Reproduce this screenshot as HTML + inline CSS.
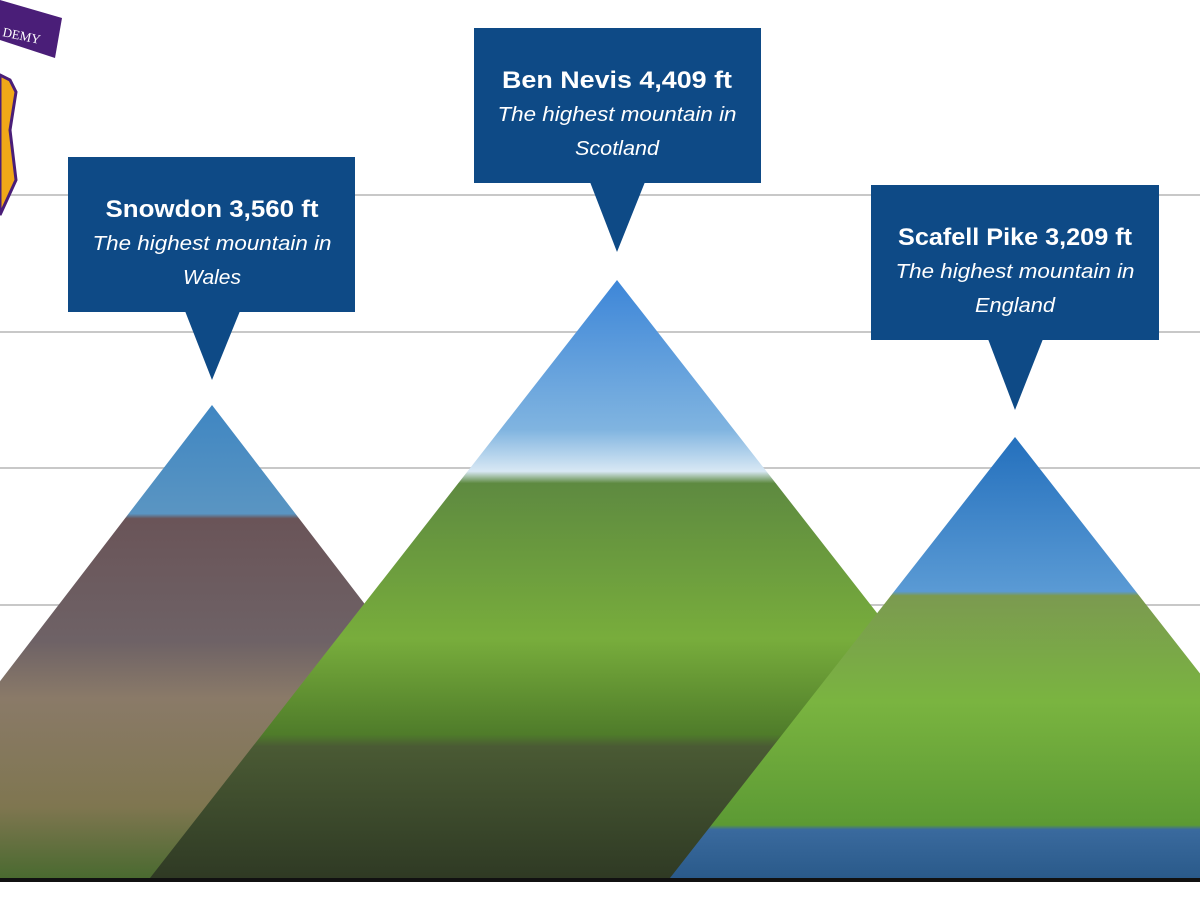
<!DOCTYPE html>
<html><head><style>
html,body{margin:0;padding:0;background:#fff;width:1200px;height:900px;overflow:hidden}
svg{display:block}
text{font-family:"Liberation Sans Narrow","Liberation Sans",sans-serif;fill:#fff}
</style></head><body>
<svg width="1200" height="900" viewBox="0 0 1200 900">
<defs>
<linearGradient id="gs" x1="0" y1="0" x2="0" y2="1" gradientUnits="objectBoundingBox">
<stop offset="0" stop-color="#3f86c2"/><stop offset="0.23" stop-color="#5a95c2"/>
<stop offset="0.24" stop-color="#6a5458"/><stop offset="0.5" stop-color="#6e6266"/>
<stop offset="0.62" stop-color="#8a7a68"/><stop offset="0.85" stop-color="#7f7650"/><stop offset="1" stop-color="#4a6a30"/>
</linearGradient>
<linearGradient id="gb" x1="0" y1="0" x2="0" y2="1">
<stop offset="0" stop-color="#3d86d8"/><stop offset="0.25" stop-color="#80b4e0"/><stop offset="0.32" stop-color="#d8e8f4"/>
<stop offset="0.34" stop-color="#5e8a40"/><stop offset="0.6" stop-color="#78ad3c"/>
<stop offset="0.76" stop-color="#4f7c2a"/><stop offset="0.78" stop-color="#4a5a34"/><stop offset="1" stop-color="#2f3a24"/>
</linearGradient>
<linearGradient id="gc" x1="0" y1="0" x2="0" y2="1">
<stop offset="0" stop-color="#2470bd"/><stop offset="0.35" stop-color="#5a9ad4"/>
<stop offset="0.36" stop-color="#7b9a50"/><stop offset="0.6" stop-color="#7ab440"/><stop offset="0.88" stop-color="#5c9a34"/>
<stop offset="0.89" stop-color="#3a6a9e"/><stop offset="1" stop-color="#2a5a8a"/>
</linearGradient>
</defs>
<g stroke="#c8c8c8" stroke-width="2">
<line x1="0" y1="195" x2="1200" y2="195"/><line x1="0" y1="332" x2="1200" y2="332"/>
<line x1="0" y1="468" x2="1200" y2="468"/><line x1="0" y1="605" x2="1200" y2="605"/>
</g>
<polygon points="212,405 575,878 -151,878" fill="url(#gs)"/>
<polygon points="617,280 1084,878 150,878" fill="url(#gb)"/>
<polygon points="1015,437 1360,878 670,878" fill="url(#gc)"/>
<rect x="0" y="878" width="1200" height="4" fill="#111"/>
<path d="M0,0 L62,18 L55,58 L0,40 Z" fill="#4a1e78"/>
<text x="2" y="36" font-size="13" transform="rotate(12 2 36)" style="font-family:'Liberation Serif',serif">DEMY</text>
<path d="M0,75 L10,80 L16,92 L10,130 L16,180 L0,215 Z" fill="#f0a818" stroke="#4a1e78" stroke-width="3"/>
<g fill="#0e4a86">
<rect x="68" y="157" width="287" height="155"/><polygon points="185,311 240,311 212,380"/>
<rect x="474" y="28" width="287" height="155"/><polygon points="590,182 645,182 617,252"/>
<rect x="871" y="185" width="288" height="155"/><polygon points="988,339 1043,339 1015,410"/>
</g>
<g text-anchor="middle">
<text x="212" y="217" font-size="24" font-weight="bold" textLength="213" lengthAdjust="spacingAndGlyphs">Snowdon 3,560 ft</text>
<text x="212" y="250" font-size="20" font-style="italic" textLength="239" lengthAdjust="spacingAndGlyphs">The highest mountain in</text>
<text x="212" y="284" font-size="20" font-style="italic" textLength="58" lengthAdjust="spacingAndGlyphs">Wales</text>
<text x="617" y="88" font-size="24" font-weight="bold" textLength="230" lengthAdjust="spacingAndGlyphs">Ben Nevis 4,409 ft</text>
<text x="617" y="121" font-size="20" font-style="italic" textLength="239" lengthAdjust="spacingAndGlyphs">The highest mountain in</text>
<text x="617" y="155" font-size="20" font-style="italic" textLength="84" lengthAdjust="spacingAndGlyphs">Scotland</text>
<text x="1015" y="245" font-size="24" font-weight="bold" textLength="234" lengthAdjust="spacingAndGlyphs">Scafell Pike 3,209 ft</text>
<text x="1015" y="278" font-size="20" font-style="italic" textLength="239" lengthAdjust="spacingAndGlyphs">The highest mountain in</text>
<text x="1015" y="312" font-size="20" font-style="italic" textLength="80" lengthAdjust="spacingAndGlyphs">England</text>
</g>
</svg>
</body></html>
